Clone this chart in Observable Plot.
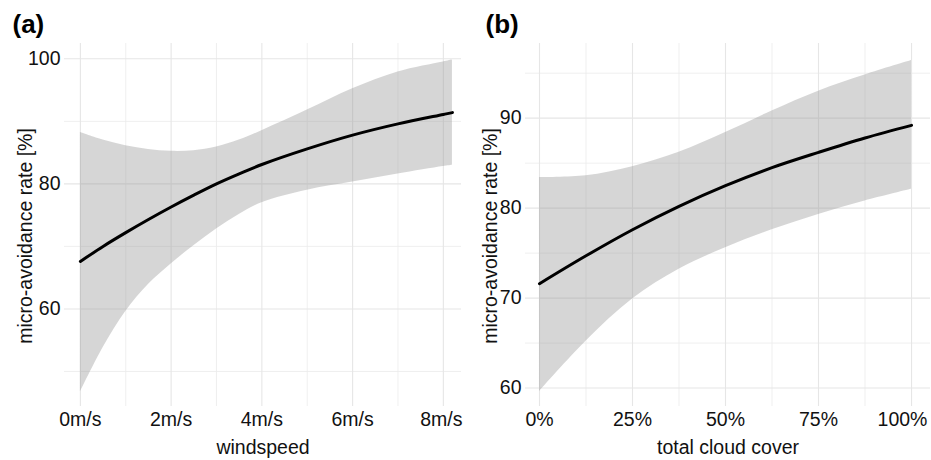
<!DOCTYPE html>
<html><head><meta charset="utf-8">
<script src="https://cdn.jsdelivr.net/npm/d3@7"></script>
<script src="https://cdn.jsdelivr.net/npm/@observablehq/plot@0.6"></script>
<style>
body{margin:0;background:#fff}
#wrap{display:flex;width:931px;height:460px;overflow:hidden}
</style>
</head><body><div id="wrap"></div>
<script>
// Panel (a): windspeed [m/s]
const windX    = [0,    0.5,  1,    1.5,  2,    2.5,  3,    3.5,  4,    5,    6,    7,    8,    8.2];
const windFit  = [67.6, 70.0, 72.2, 74.3, 76.3, 78.2, 80.0, 81.6, 83.1, 85.6, 87.8, 89.6, 91.1, 91.4];
const windHi   = [88.2, 87.0, 86.1, 85.5, 85.2, 85.3, 85.9, 87.0, 88.5, 91.8, 95.2, 97.9, 99.5, 99.8];
const windLo   = [46.7, 53.8, 59.6, 63.9, 67.2, 70.1, 72.8, 75.1, 77.0, 79.0, 80.3, 81.6, 82.8, 83.0];
const windTicks = [0, 2, 4, 6, 8];
const windMinor = [1, 3, 5, 7];
const windYTicks = [60, 80, 100];
const windYMinor = [50, 70, 90];

// Panel (b): total cloud cover [%]
const cloudX   = [0,    12.5, 25,   37.5, 50,   62.5, 75,   87.5, 100];
const cloudFit = [71.6, 74.7, 77.6, 80.2, 82.5, 84.5, 86.2, 87.8, 89.2];
const cloudHi  = [83.4, 83.6, 84.6, 86.2, 88.4, 90.8, 93.0, 94.8, 96.4];
const cloudLo  = [59.6, 65.2, 69.9, 73.2, 75.6, 77.6, 79.3, 80.8, 82.1];
const cloudTicks = [0, 25, 50, 75, 100];
const cloudMinor = [12.5, 37.5, 62.5, 87.5];
const cloudYTicks = [60, 70, 80, 90];
const cloudYMinor = [65, 75, 85, 95];

const yTitle = "micro-avoidance rate [%]";

function rows(xs, fit, lo, hi) {
  return xs.map((x, i) => ({x, fit: fit[i], lo: lo[i], hi: hi[i]}));
}

function panel(o) {
  const data = rows(o.xs, o.fit, o.lo, o.hi);
  const inner = o.xMajor.slice(0, -1);
  const last = o.xMajor.slice(-1);
  return Plot.plot({
    width: o.width, height: 460,
    marginLeft: o.ml, marginRight: o.mr, marginTop: 43, marginBottom: 54,
    x: {domain: o.xDomain},
    y: {domain: o.yDomain},
    style: {fontFamily: "'Liberation Sans', Arial, Helvetica, sans-serif", fontSize: "19.5px", color: "#111", background: "#fff", overflow: "visible"},
    marks: [
      Plot.gridX(o.xMinor, {stroke: "#ebebeb", strokeOpacity: 1, strokeWidth: 0.8}),
      Plot.gridY(o.yMinor, {stroke: "#ebebeb", strokeOpacity: 1, strokeWidth: 0.8}),
      Plot.gridX(o.xMajor, {stroke: "#e6e6e6", strokeOpacity: 1, strokeWidth: 1.1}),
      Plot.gridY(o.yMajor, {stroke: "#e6e6e6", strokeOpacity: 1, strokeWidth: 1.1}),
      Plot.areaY(data, {x: "x", y1: "lo", y2: "hi", fill: "#999999", fillOpacity: 0.4, curve: "catmull-rom"}),
      Plot.line(data, {x: "x", y: "fit", stroke: "#000", strokeWidth: 3, curve: "catmull-rom"}),
      Plot.axisX(inner, {tickSize: 0, tickPadding: 6, tickFormat: o.fmt, label: null}),
      Plot.axisX(last, {tickSize: 0, tickPadding: 6, tickFormat: o.fmt, label: null, dx: o.lastDx}),
      Plot.axisY(o.yMajor, {tickSize: 0, tickPadding: 4, label: null}),
      Plot.text([o.xTitle], {text: d => d, frameAnchor: "bottom", dy: 41, lineAnchor: "middle", fill: "#111"}),
      Plot.text([yTitle], {text: d => d, frameAnchor: "left", textAnchor: "middle", rotate: -90, dx: 25 - o.ml, dy: 11, lineAnchor: "middle", fill: "#111"}),
      Plot.text([o.tag], {text: d => d, frameAnchor: "top-left", textAnchor: "start", dx: o.tagX - o.ml, dy: -29, lineAnchor: "top", fontSize: 26, fontWeight: "bold", fill: "#000"})
    ]
  });
}

const wrap = document.getElementById("wrap");
wrap.append(panel({
  xs: windX, fit: windFit, lo: windLo, hi: windHi,
  width: 465, ml: 64, mr: 4,
  xDomain: [-0.35, 8.4], yDomain: [44.4, 102.45],
  xMajor: windTicks, xMinor: windMinor, yMajor: windYTicks, yMinor: windYMinor,
  fmt: d => d + "m/s", xTitle: "windspeed", tag: "(a)", tagX: 12, lastDx: -2
}));
wrap.append(panel({
  xs: cloudX, fit: cloudFit, lo: cloudLo, hi: cloudHi,
  width: 466, ml: 60, mr: 1,
  xDomain: [-3.76, 105.1], yDomain: [57.95, 98.3],
  xMajor: cloudTicks, xMinor: cloudMinor, yMajor: cloudYTicks, yMinor: cloudYMinor,
  fmt: d => d + "%", xTitle: "total cloud cover", tag: "(b)", tagX: 20, lastDx: -9
}));
</script>
</body></html>
